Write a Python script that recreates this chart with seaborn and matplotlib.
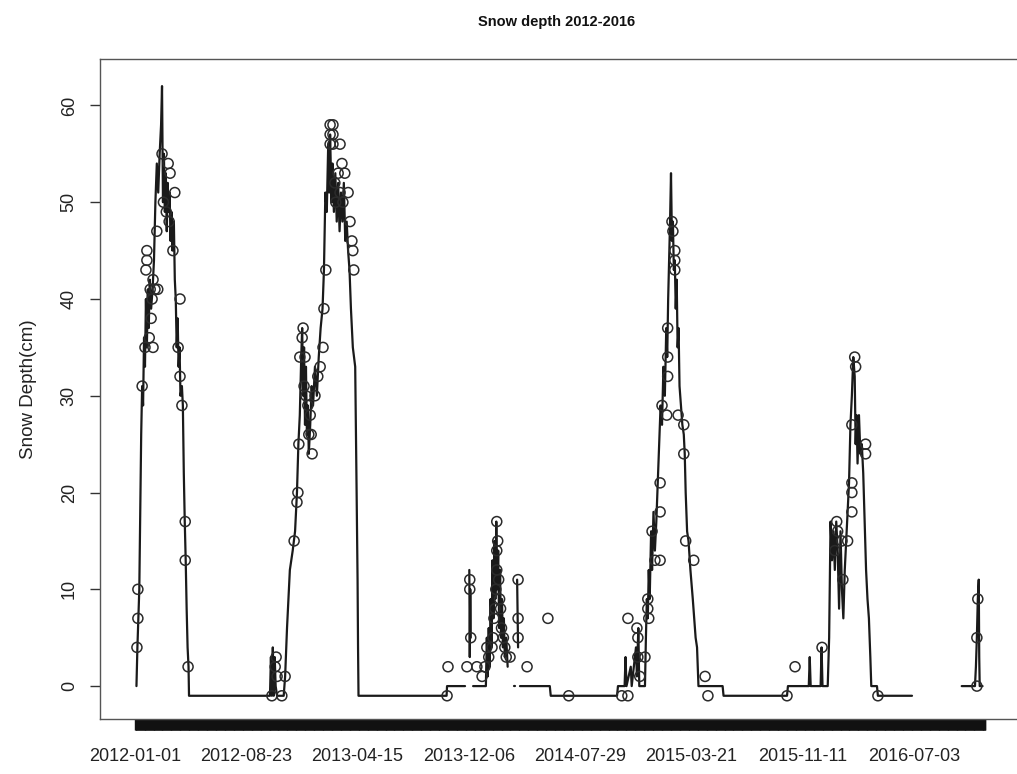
import numpy as np
import pandas as pd
import seaborn as sns
import matplotlib.pyplot as plt

nan = np.nan
start = pd.Timestamp("2012-01-01")
record_end = pd.Timestamp("2016-12-01")

# Daily snow depth record, days since 2012-01-01 (nan = break in the record)
line_day = [
    3, 5, 7, 9, 11, 13, 15, 17, 19, 21, 23, 25, 27, 29, 31, 34, 37, 40, 43, 46,
    49, 52, 55, 57, 59, 61, 63, 65, 67, 69, 71, 73, 75, 77, 79, 82, 84, 86, 88, 90,
    92, 94, 96, 99, 101, 103, 105, 107, 109, 111, 113, 114,
    285, 287, 289, 291, 293, 295, 297, 300, 314, 317, 321, 327, 333, 338, 342, 345,
    348, 351, 353, 355, 357, 359, 361, 363, 365, 367, 370, 373, 376, 380, 384, 388,
    392, 396, 399, 402, 405, 408, 410, 412, 415, 417, 420, 423, 426, 429, 432, 435,
    438, 441, 444, 447, 450, 453, 456, 460, 465, 468, 470, 471, 472, 658, 659, 697,
    nan,
    706, 707, 708, 709,
    nan,
    714, 741, 743, 745, 747, 749, 751, 753, 755, 757, 759, 761, 763, 765, 767, 769,
    771, 773, 775, 777, 779, 781, 784, 787,
    nan,
    800, 803,
    nan,
    807, 809,
    nan,
    813, 876, 878, 1018, 1020, 1034, 1036, 1038, 1047, 1049, 1058, 1060, 1063, 1065,
    1077, 1079, 1081, 1083, 1085, 1087, 1090, 1092, 1095, 1098, 1101, 1104, 1107,
    1110, 1113, 1116, 1119, 1122, 1124, 1126, 1128, 1130, 1132, 1134, 1136, 1138,
    1140, 1142, 1144, 1146, 1148, 1150, 1153, 1156, 1159, 1161, 1163, 1166, 1169,
    1173, 1178, 1184, 1187, 1190, 1241, 1243, 1377, 1379, 1423, 1425, 1427, 1448,
    1450, 1452, 1463, 1466, 1469, 1472, 1475, 1478, 1481, 1484, 1487, 1490, 1493,
    1496, 1499, 1502, 1505, 1508, 1511, 1514, 1517, 1520, 1522, 1524, 1526, 1529,
    1532, 1535, 1538, 1541, 1544, 1547, 1550, 1553, 1555, 1567, 1569, 1641,
    nan,
    1746, 1774, 1776, 1778, 1780, 1782, 1783, 1784, 1790,
]
line_cm = [
    0, 4, 7, 10, 18, 26, 31, 29, 36, 33, 40, 35, 41, 37, 42, 39, 41, 44, 50, 54,
    51, 55, 58, 62, 50, 55, 49, 53, 47, 52, 49, 51, 46, 49, 45, 48, 42, 40, 35, 38,
    33, 35, 30, 31, 29, 22, 17, 13, 8, 4, 2, -1,
    -1, 3, -1, 4, -1, 3, 0, -1, -1, 1, 6, 12, 14, 16, 20, 25,
    28, 34, 37, 30, 35, 27, 33, 26, 29, 24, 27, 31, 29, 33, 30, 34,
    37, 39, 43, 51, 49, 56, 51, 57, 50, 54, 49, 53, 48, 52, 47, 51,
    48, 52, 46, 48, 45, 43, 39, 35, 33, 20, 11, 4, -1, -1, 0, 0,
    nan,
    12, 3, 10, 5,
    nan,
    0, 0, 5, 1, 6, 2, 9, 4, 13, 7, 15, 9, 17, 10, 14, 6,
    12, 5, 9, 4, 7, 3, 5, 2,
    nan,
    0, 0,
    nan,
    11, 4,
    nan,
    0, 0, -1, -1, 0, 0, 3, 0, 2, 0, 4, 1, 6, 0,
    0, 5, 9, 7, 12, 9, 16, 12, 18, 14, 17, 21, 25,
    29, 27, 33, 30, 37, 34, 40, 44, 48, 53, 46, 48, 43,
    44, 39, 42, 35, 37, 31, 29, 27, 26, 24, 20, 16, 15,
    12, 9, 5, 4, 0, 0, -1, -1, 0, 0, 3, 0, 0,
    4, 0, 0, 5, 17, 13, 16, 12, 17, 14, 8, 16, 10,
    7, 12, 15, 18, 21, 27, 30, 34, 32, 25, 28, 23, 28,
    24, 25, 22, 17, 12, 9, 7, 3, 0, 0, -1, -1,
    nan,
    0, 0, 2, 5, 9, 11, 3, 0, 0,
]

# Individual readings drawn as open circles
obs_day = [
    57, 70, 74, 84, 46, 80, 25, 25, 23, 38, 32, 42, 48, 36, 95, 21, 38, 91, 95, 15,
    99, 106, 106, 6, 6, 4, 112, 60, 66, 72, 30, 34,
    289, 296, 298, 300, 310, 317, 336, 342, 344, 346, 348, 353, 355, 359, 357, 361,
    365, 370, 367, 372, 374, 380, 386, 391, 397, 399, 403, 412, 418, 412, 418, 412,
    418, 433, 437, 429, 443, 422, 433, 450, 424, 439, 454, 458, 460, 462,
    659, 661, 701, 707, 707, 709, 722, 733, 739, 743, 747, 754, 756, 758, 760, 762,
    764, 764, 764, 766, 768, 770, 772, 774, 778, 781, 784, 792, 809, 809, 809, 828,
    872, 916,
    1028, 1041, 1041, 1060, 1062, 1062, 1077, 1066, 1083, 1083, 1085, 1092, 1098,
    1109, 1109, 1109, 1113, 1123, 1125, 1125, 1125, 1134, 1136, 1140, 1140, 1140,
    1147, 1159, 1159, 1163, 1180, 1204, 1210,
    1377, 1394, 1451, 1478, 1482, 1484, 1493, 1495, 1505, 1514, 1514, 1514, 1514,
    1520, 1522, 1543, 1543, 1569,
    1778, 1778, 1780,
]
obs_cm = [
    55, 54, 53, 51, 47, 45, 45, 44, 43, 42, 41, 41, 41, 40, 40, 35, 35, 35, 32, 31,
    29, 17, 13, 10, 7, 4, 2, 50, 49, 48, 36, 38,
    -1, 2, 3, 1, -1, 1, 15, 19, 20, 25, 34, 36, 37, 34, 31, 30,
    29, 28, 26, 26, 24, 30, 32, 33, 35, 39, 43, 58, 58, 57, 57, 56,
    56, 56, 54, 53, 53, 52, 51, 51, 50, 50, 48, 46, 45, 43,
    -1, 2, 2, 11, 10, 5, 2, 1, 2, 4, 3, 4, 5, 7, 8, 10,
    12, 14, 17, 15, 11, 9, 8, 6, 5, 4, 3, 3, 11, 7, 5, 2,
    7, -1,
    -1, -1, 7, 6, 5, 3, 3, 1, 9, 8, 7, 16, 13,
    13, 18, 21, 29, 28, 32, 34, 37, 48, 47, 45, 44, 43,
    28, 27, 24, 15, 13, 1, -1,
    -1, 2, 4, 14, 17, 16, 15, 11, 15, 18, 20, 21, 27,
    34, 33, 25, 24, -1,
    0, 5, 9,
]

tick_dates = ["2012-01-01", "2012-08-23", "2013-04-15", "2013-12-06",
              "2014-07-29", "2015-03-21", "2015-11-11", "2016-07-03"]
y_ticks = [0, 10, 20, 30, 40, 50, 60]

sns.set_theme(style="ticks")
plt.rcParams['font.family'] = ['Liberation Sans', 'DejaVu Sans']

line = pd.DataFrame({'day': line_day, 'cm': line_cm})
line['seg'] = line['day'].isna().cumsum()
line = line.dropna()

fig = plt.figure(figsize=(10.17, 7.74), dpi=100)
ax = fig.add_axes([100 / 1017, 1 - 719 / 774, 919 / 1017, 660 / 774])

sns.lineplot(
    data=line, x='day', y='cm', units='seg', estimator=None, sort=False,
    color='#1a1a1a', lw=1.6, ax=ax,
)
sns.scatterplot(
    x=obs_day, y=obs_cm, marker='o', s=52, facecolors='none',
    edgecolor='#2b2b2b', linewidth=1.1, ax=ax, zorder=3,
)

# one tick per recorded day (R draws them all, giving the solid bar)
tick_pos = [(pd.Timestamp(d) - start).days for d in tick_dates]
ax.set_xticks(tick_pos, tick_dates)
ax.set_xticks(np.arange(0, (record_end - start).days + 1), minor=True)
ax.tick_params(axis='x', which='both', length=8, width=1, color='#111111',
               pad=13, labelsize=13, labelcolor='#222222')

ax.set_yticks(y_ticks)
ax.tick_params(axis='y', length=7, width=1, color='#333333', pad=9,
               labelsize=13, labelcolor='#222222', labelrotation=90)
for t in ax.get_yticklabels():
    t.set_va('center')

ax.set_xlim(-74, 1867)
ax.set_ylim(-3.4, 64.8)
ax.set_xlabel('')
ax.set_ylabel('Snow Depth(cm)', fontsize=13.5, color='#222222')
ax.yaxis.set_label_coords(-0.069, 0.5)

for side in ['top', 'bottom', 'left', 'right']:
    ax.spines[side].set_color('#555555')
    ax.spines[side].set_linewidth(1)

fig.text(557 / 1017, 1 - 22 / 774, 'Snow depth 2012-2016', fontsize=10.5,
         fontweight='bold', ha='center', va='center', color='#111111')

plt.savefig('out.png', dpi=100)
plt.close()
